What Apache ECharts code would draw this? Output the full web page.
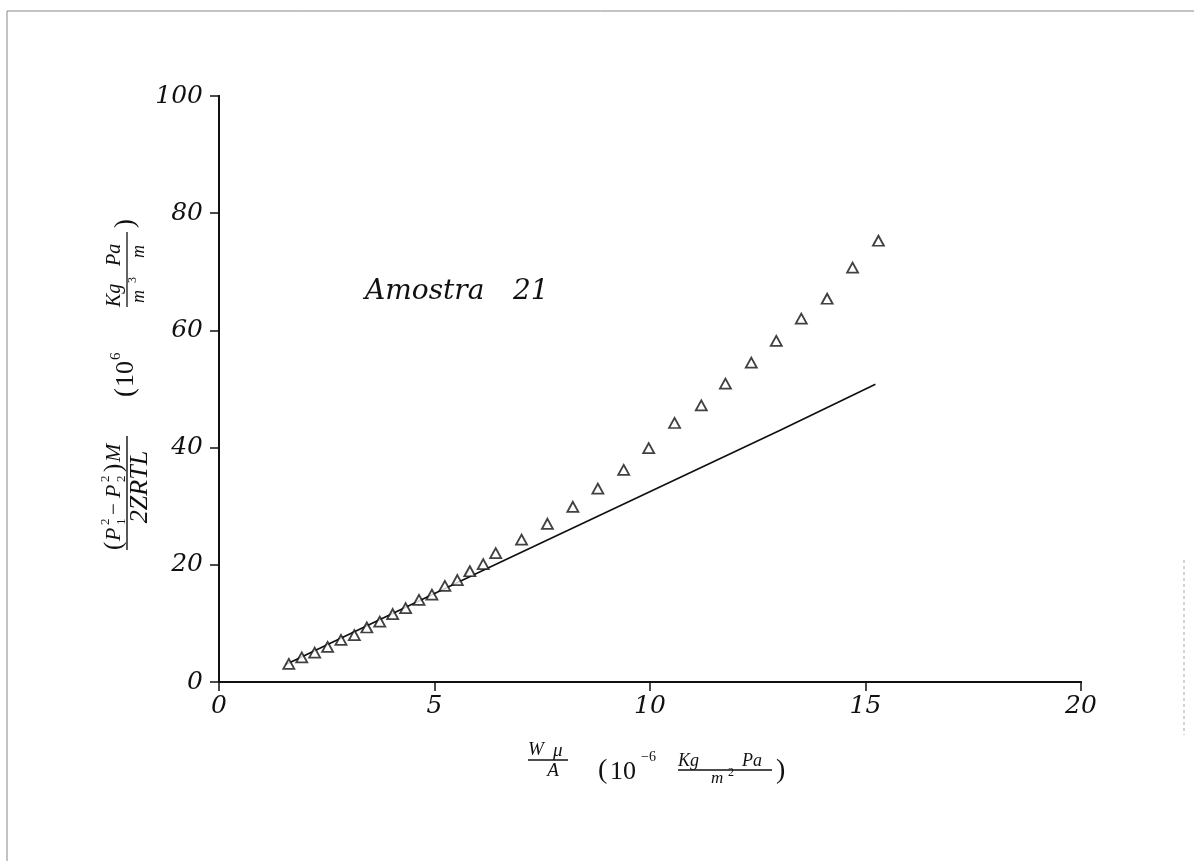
<!DOCTYPE html>
<html>
<head>
<meta charset="utf-8">
<script src="https://cdn.jsdelivr.net/npm/echarts@6/dist/echarts.min.js"></script>
<style>
html,body{margin:0;padding:0;background:#fff;}
#chart{width:1194px;height:861px;}
</style>
</head>
<body>
<div id="chart"></div>
<script>
// Data
var xTicks = [0, 5, 10, 15, 20];
var yTicks = [0, 20, 40, 60, 80, 100];
var measuredX = [1.62, 1.92, 2.22, 2.52, 2.83, 3.14, 3.43, 3.73, 4.03, 4.33, 4.64, 4.94, 5.24, 5.53, 5.82, 6.13, 6.42, 7.02, 7.62, 8.21, 8.79, 9.39, 9.97, 10.57, 11.19, 11.75, 12.35, 12.93, 13.51, 14.11, 14.70, 15.30];
var measuredY = [3.1, 4.2, 5.0, 6.0, 7.2, 8.0, 9.3, 10.3, 11.6, 12.6, 14.0, 14.9, 16.4, 17.4, 18.9, 20.1, 22.0, 24.3, 27.0, 29.9, 33.0, 36.2, 39.9, 44.2, 47.2, 50.9, 54.5, 58.2, 62.0, 65.4, 70.7, 75.3];
var lineX = [1.55, 6.07, 13.02, 15.23];
var lineY = [3.0, 18.85, 42.96, 50.8];
var sampleWord = 'Amostra';
var sampleNumber = '21';

var pts = measuredX.map(function (x, i) { return [x, measuredY[i]]; });
var linePts = lineX.map(function (x, i) { return [x, lineY[i]]; });

var SERIF = '"Liberation Serif", "DejaVu Serif", serif';
var DSERIF = '"DejaVu Serif", "Liberation Serif", serif';

function T(x, y, str, size, italic, align, vAlign, fam) {
  return {
    type: 'text', x: x, y: y, silent: true,
    style: {
      text: str, fill: '#111', fontFamily: fam || SERIF,
      fontSize: size, fontStyle: italic ? 'italic' : 'normal',
      align: align || 'left', verticalAlign: vAlign || 'middle'
    }
  };
}
function L(x1, y1, x2, y2, w, c) {
  return { type: 'line', silent: true, shape: { x1: x1, y1: y1, x2: x2, y2: y2 }, style: { stroke: c || '#111', lineWidth: w || 1.3 } };
}

// y-axis title: built horizontally in local coords, then rotated CCW
var yTitleChildren = [
  // numerator (P1^2 - P2^2) M
  T(0, -13, '(', 25, false),
  T(9, -13, 'P', 22, true),
  T(25, -21, '2', 13, false),
  T(25, -5, '1', 13, false),
  T(35, -13, '\u2212', 21, false),
  T(52, -13, 'P', 22, true),
  T(68, -21, '2', 13, false),
  T(68, -5, '2', 13, false),
  T(78, -13, ')', 25, false),
  T(88, -13, 'M', 22, true),
  L(0, 0, 114, 0, 1.4),
  T(63, 13, '2ZRTL', 26, true, 'center'),
  // (10^6
  T(153, -1, '(', 27, false),
  T(163, -1, '10', 26, false),
  T(190, -11, '6', 15, false),
  // Kg Pa / m^3 m
  T(243, -12, 'Kg', 20, true),
  T(284, -12, 'Pa', 20, true),
  L(243, 0, 318, 0, 1.3),
  T(247, 12, 'm', 18, true),
  T(267, 6, '3', 12, false),
  T(292, 12, 'm', 18, true),
  T(322, -1, ')', 27, false)
];

var xTitle = [
  T(528, 750, 'W', 19, true),
  T(553, 751, '\u03bc', 19, true),
  L(528, 760, 568, 760, 1.3),
  T(553, 771, 'A', 19, true, 'center'),
  T(598, 771, '(', 28, false),
  T(610, 772, '10', 26, false),
  T(641, 757, '\u22126', 14, false),
  T(678, 761, 'Kg', 18, true),
  T(742, 761, 'Pa', 18, true),
  L(678, 770, 772, 770, 1.3),
  T(711, 779, 'm', 17, true),
  T(728, 773, '2', 12, false),
  T(776, 771, ')', 28, false)
];

var chart = echarts.init(document.getElementById('chart'), null, { renderer: 'canvas' });

var tickLabelStyle = { fontFamily: DSERIF, fontStyle: 'italic', fontSize: 25, color: '#111' };

chart.setOption({
  backgroundColor: '#ffffff',
  animation: false,
  grid: { left: 219, top: 96, width: 862, height: 586, containLabel: false },
  xAxis: [
    {
      type: 'value', min: 0, max: 20, interval: 5, position: 'bottom',
      axisLine: { show: true, onZero: false, lineStyle: { color: '#111', width: 2 } },
      axisTick: { show: true, inside: false, length: 9, lineStyle: { color: '#111', width: 1.5 } },
      axisLabel: Object.assign({ margin: 12 }, tickLabelStyle),
      splitLine: { show: false }
    },
    {
      type: 'value', min: 0, max: 20, interval: 5, position: 'top',
      axisLine: { show: true, lineStyle: { color: '#111', width: 2 } },
      axisTick: { show: true, inside: true, length: 9, lineStyle: { color: '#111', width: 1.5 } },
      axisLabel: { show: false }, splitLine: { show: false }
    }
  ],
  yAxis: [
    {
      type: 'value', min: 0, max: 100, interval: 20, position: 'left',
      axisLine: { show: true, onZero: false, lineStyle: { color: '#111', width: 2 } },
      axisTick: { show: true, inside: false, length: 8, lineStyle: { color: '#111', width: 1.5 } },
      axisLabel: Object.assign({ margin: 16 }, tickLabelStyle),
      splitLine: { show: false }
    },
    {
      type: 'value', min: 0, max: 100, interval: 20, position: 'right',
      axisLine: { show: true, lineStyle: { color: '#111', width: 2 } },
      axisTick: { show: true, inside: true, length: 9, lineStyle: { color: '#111', width: 1.5 } },
      axisLabel: { show: false }, splitLine: { show: false }
    }
  ],
  series: [
    {
      type: 'line', data: linePts, xAxisIndex: 0, yAxisIndex: 0,
      showSymbol: false, symbol: 'none',
      lineStyle: { color: '#111', width: 1.7 }, z: 3
    },
    {
      type: 'scatter', data: pts, xAxisIndex: 0, yAxisIndex: 0,
      symbol: 'triangle', symbolSize: [11, 10],
      itemStyle: { color: '#ffffff', borderColor: '#111', borderWidth: 1.8 }, z: 4
    }
  ],
  graphic: [
    L(7, 11, 1194, 11, 1, '#888'),
    L(7, 11, 7, 861, 1, '#888'),
    {
      type: 'line', silent: true, shape: { x1: 1184, y1: 560, x2: 1184, y2: 735 },
      style: { stroke: '#aaa', lineWidth: 1, lineDash: [3, 3] }
    },
    T(365, 292, sampleWord, 28, true, 'left', 'middle', DSERIF),
    T(513, 292, sampleNumber, 28, true, 'left', 'middle', DSERIF),
    { type: 'group', x: 127, y: 550, rotation: Math.PI / 2, children: yTitleChildren },
    { type: 'group', children: xTitle }
  ]
});
</script>
</body>
</html>
